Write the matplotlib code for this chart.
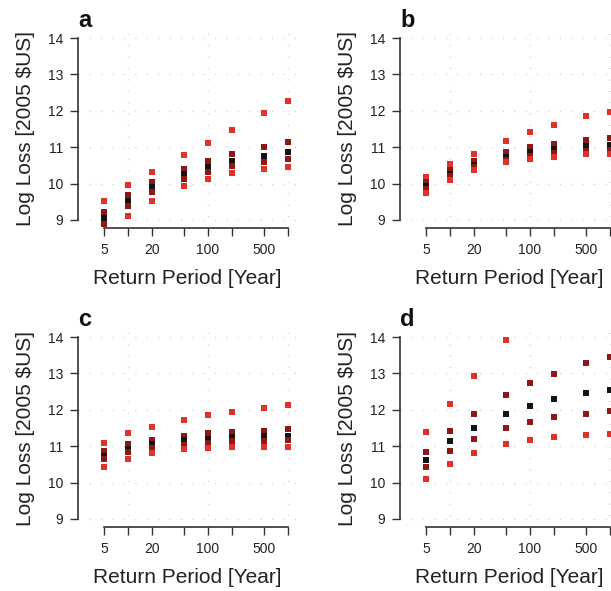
import numpy as np
import matplotlib
matplotlib.use('Agg')
import matplotlib.pyplot as plt

plt.rcParams['font.family'] = ['Liberation Sans', 'DejaVu Sans']

periods = [5, 10, 20, 50, 100, 200, 500, 1000]
tick_labels = ['5', '', '20', '', '100', '', '500', '']
nan = np.nan

# rows: upper bound, upper quartile, median, lower quartile, lower bound
panel_a = [
  [9.52, 9.96, 10.31, 10.78, 11.11, 11.46, 11.93, 12.28],
  [9.23, 9.68, 10.04, 10.39, 10.61, 10.81, 11.00, 11.14],
  [9.05, 9.52, 9.90, 10.26, 10.45, 10.61, 10.75, 10.86],
  [8.89, 9.38, 9.77, 10.12, 10.33, 10.48, 10.59, 10.67],
  [nan, 9.11, 9.52, 9.93, 10.12, 10.29, 10.40, 10.45],
]
panel_b = [
  [10.18, 10.53, 10.81, 11.16, 11.41, 11.60, 11.85, 11.98],
  [10.04, 10.37, 10.62, 10.86, 11.00, 11.08, 11.19, 11.25],
  [9.93, 10.27, 10.51, 10.73, 10.86, 10.94, 11.03, 11.05],
  [9.85, 10.20, 10.46, 10.65, 10.75, 10.83, 10.90, 10.93],
  [9.74, 10.10, 10.36, 10.58, 10.68, 10.74, 10.80, 10.81],
]
panel_c = [
  [11.10, 11.35, 11.54, 11.73, 11.87, 11.95, 12.06, 12.12],
  [10.86, 11.05, 11.18, 11.29, 11.35, 11.40, 11.43, 11.46],
  [10.73, 10.92, 11.05, 11.16, 11.21, 11.24, 11.27, 11.27],
  [10.64, 10.83, 10.94, 11.03, 11.10, 11.13, 11.13, 11.16],
  [10.42, 10.64, 10.80, 10.91, 10.94, 10.97, 10.99, 10.99],
]
panel_d = [
  [11.40, 12.17, 12.93, 13.92, nan, nan, nan, nan],
  [10.85, 11.43, 11.89, 12.41, 12.74, 12.99, 13.29, 13.45],
  [10.63, 11.13, 11.51, 11.89, 12.11, 12.30, 12.47, 12.55],
  [10.44, 10.88, 11.21, 11.51, 11.67, 11.81, 11.89, 11.97],
  [10.09, 10.52, 10.82, 11.07, 11.18, 11.26, 11.32, 11.34],
]

colors = ['#E3302A', '#8B1A14', '#141414', '#8B1A14', '#E3302A']

W, H = 611, 591
fig = plt.figure(figsize=(W / 100, H / 100), dpi=100)

def make_panel(data, letter, left_px, top_px):
  width_px, height_px = 218, 198
  ax = fig.add_axes([left_px / W, 1 - (top_px + height_px) / H, width_px / W, height_px / H])
  for row, col in zip(data, colors):
    ax.scatter(periods, row, marker='s', s=15, color=col, linewidths=0, zorder=3)
  ax.set_xscale('log')
  ax.set_xlim(2.365, 1259)
  ax.set_ylim(8.78, 14.22)
  for y in range(9, 15):
    ax.axhline(y, color='#cccccc', lw=1, ls=(0, (0.7, 7.5)), zorder=1)
  for x in [10, 100, 1000]:
    ax.axvline(x, color='#cccccc', lw=1, ls=(0, (0.7, 7.5)), zorder=1)
  ax.set_xticks(periods)
  ax.set_xticklabels(tick_labels)
  ax.xaxis.set_minor_locator(matplotlib.ticker.NullLocator())
  ax.set_yticks(range(9, 15))
  ax.spines['top'].set_visible(False)
  ax.spines['right'].set_visible(False)
  ax.spines['left'].set_bounds(9, 14)
  ax.spines['bottom'].set_bounds(5, 1000)
  for s in ['left', 'bottom']:
    ax.spines[s].set_color('#333333')
    ax.spines[s].set_linewidth(1.2)
  ax.tick_params(length=5.5, width=1, color='#333333', labelsize=10, labelcolor='#222222', pad=5)
  ax.set_xlabel('Return Period [Year]', fontsize=15, color='#222222', labelpad=9)
  ax.set_ylabel('Log Loss [2005 $US]', fontsize=15, color='#222222', labelpad=9)
  fig.text(left_px / W, 1 - (top_px - 3) / H, letter, fontsize=17, fontweight='bold',
           va='baseline', ha='left', color='#111111')
  return ax

make_panel(panel_a, 'a', 78, 30)
make_panel(panel_b, 'b', 400, 30)
make_panel(panel_c, 'c', 78, 329)
make_panel(panel_d, 'd', 400, 329)

fig.savefig('out.png', dpi=100)
